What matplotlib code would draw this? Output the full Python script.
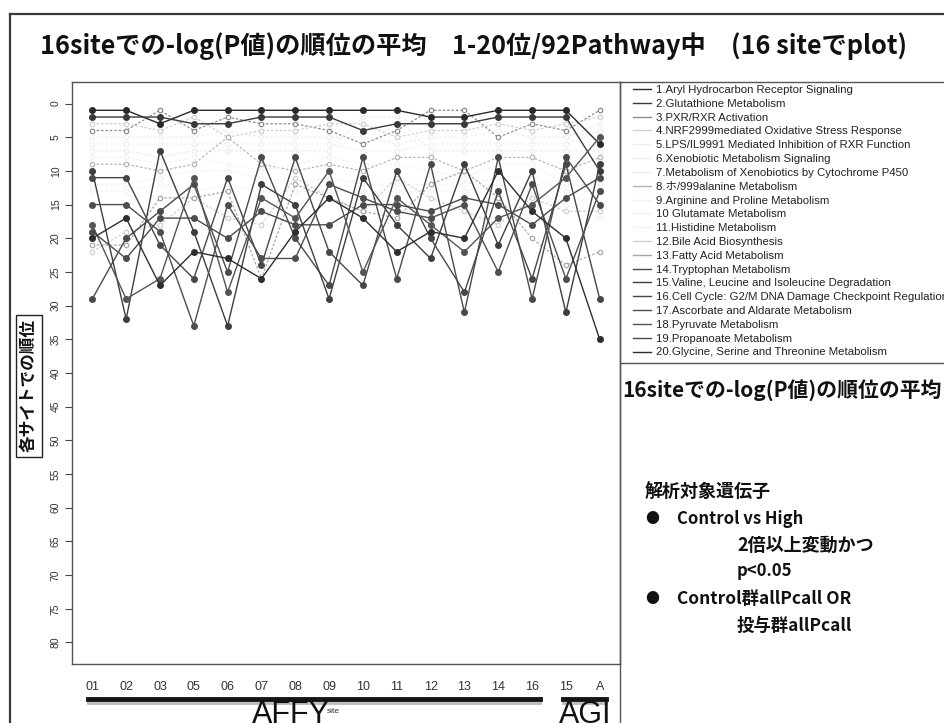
import numpy as np
import matplotlib
matplotlib.use("Agg")
import matplotlib.pyplot as plt
from matplotlib.lines import Line2D

# ---------------- data ----------------
sites = ["01", "02", "03", "05", "06", "07", "08", "09", "10", "11", "12", "13", "14", "16", "15", "A"]

names = [
    "1.Aryl Hydrocarbon Receptor Signaling",
    "2.Glutathione Metabolism",
    "3.PXR/RXR Activation",
    "4.NRF2999mediated Oxidative Stress Response",
    "5.LPS/IL9991 Mediated Inhibition of RXR Function",
    "6.Xenobiotic Metabolism Signaling",
    "7.Metabolism of Xenobiotics by Cytochrome P450",
    "8.ホ/999alanine Metabolism",
    "9.Arginine and Proline Metabolism",
    "10 Glutamate Metabolism",
    "11.Histidine Metabolism",
    "12.Bile Acid Biosynthesis",
    "13.Fatty Acid Metabolism",
    "14.Tryptophan Metabolism",
    "15.Valine, Leucine and Isoleucine Degradation",
    "16.Cell Cycle: G2/M DNA Damage Checkpoint Regulation",
    "17.Ascorbate and Aldarate Metabolism",
    "18.Pyruvate Metabolism",
    "19.Propanoate Metabolism",
    "20.Glycine, Serine and Threonine Metabolism",
]

s01 = [1, 1, 3, 1, 1, 1, 1, 1, 1, 1, 2, 2, 1, 1, 1, 6]
s02 = [2, 2, 2, 3, 3, 2, 2, 2, 4, 3, 3, 3, 2, 2, 2, 10]
s03 = [4, 4, 1, 4, 2, 3, 3, 4, 6, 4, 1, 1, 5, 3, 4, 1]
s04 = [3, 3, 4, 2, 5, 4, 4, 3, 3, 5, 4, 4, 3, 4, 3, 2]
s05 = [5, 5, 5, 5, 4, 5, 5, 5, 5, 6, 5, 5, 4, 5, 5, 3]
s06 = [6, 6, 6, 6, 6, 6, 6, 6, 7, 7, 6, 6, 6, 6, 6, 4]
s07 = [7, 7, 8, 7, 7, 7, 7, 7, 2, 2, 7, 7, 7, 7, 7, 7]
s08 = [9, 9, 10, 9, 5, 9, 10, 9, 10, 8, 8, 10, 8, 8, 10, 8]
s09 = [8, 8, 9, 8, 9, 10, 9, 8, 9, 9, 10, 11, 9, 9, 12, 12]
s10 = [12, 12, 11, 10, 10, 11, 12, 11, 12, 12, 12, 12, 11, 11, 13, 16]
s11 = [13, 13, 12, 13, 12, 13, 13, 13, 13, 13, 13, 13, 12, 13, 15, 17]
s12 = [22, 19, 18, 14, 17, 18, 11, 14, 16, 11, 14, 16, 18, 14, 16, 16]
s13 = [21, 21, 14, 14, 13, 26, 12, 14, 16, 17, 12, 10, 14, 20, 24, 22]
s14 = [29, 20, 16, 12, 25, 8, 20, 27, 8, 26, 9, 31, 8, 29, 8, 15]
s15 = [10, 32, 7, 19, 33, 12, 15, 29, 11, 18, 23, 9, 21, 10, 31, 9]
s16 = [11, 11, 21, 26, 11, 24, 8, 22, 27, 10, 20, 28, 13, 26, 9, 29]
s17 = [15, 15, 19, 33, 15, 23, 23, 12, 14, 16, 17, 15, 25, 12, 26, 13]
s18 = [18, 29, 26, 11, 28, 14, 17, 10, 25, 14, 18, 22, 17, 15, 11, 5]
s19 = [19, 23, 17, 17, 20, 16, 18, 18, 15, 15, 16, 14, 15, 18, 14, 11]
s20 = [20, 17, 27, 22, 23, 26, 19, 14, 17, 22, 19, 20, 10, 16, 20, 35]

series = [s01, s02, s03, s04, s05, s06, s07, s08, s09, s10,
          s11, s12, s13, s14, s15, s16, s17, s18, s19, s20]

# ---------------- styles ----------------
colors = ["#2a2a2a", "#3a3a3a", "#8c8c8c", "#cfcfcf", "#efefef", "#efefef", "#ececec",
          "#b5b5b5", "#f2f2f2", "#f2f2f2", "#f2f2f2", "#d0d0d0", "#a8a8a8",
          "#4a4a4a", "#3e3e3e", "#474747", "#4e4e4e", "#555555", "#4c4c4c", "#2e2e2e"]
dark = [True, True, False, False, False, False, False, False, False, False,
        False, False, False, True, True, True, True, True, True, True]

W, H = 945, 723
fig = plt.figure(figsize=(W / 100, H / 100), dpi=100)
fig.patch.set_facecolor("white")


def fx(px):
    return px / W


def fy(py):
    return 1 - py / H


ax = fig.add_axes([fx(72), fy(664), fx(620) - fx(72), fy(82) - fy(664)])
x = np.arange(1, len(sites) + 1)

order = [i for i in range(20) if not dark[i]] + [i for i in range(20) if dark[i]]
for i in order:
    c = colors[i]
    if dark[i]:
        ax.plot(x, series[i], color=c, lw=1.0, ls="-", marker="o", ms=4.0,
                mfc=c, mec=c, zorder=3)
    else:
        ax.plot(x, series[i], color=c, lw=0.9, ls=(0, (2, 1.5)), marker="o", ms=3.2,
                mfc="white", mec=c, mew=0.9, zorder=2)

ax.set_xlim(0.4, 16.6)
ax.set_ylim(83.2, -3.2)
ax.set_yticks(range(0, 81, 5))
ax.set_yticklabels([str(v) for v in range(0, 81, 5)], rotation=90, va="center",
                   fontsize=7.5, color="#333333", family=["Liberation Sans Narrow", "Liberation Sans"])
ax.tick_params(axis="y", length=5, width=0.8, color="#444444", pad=3)
ax.set_xticks(x)
ax.set_xticklabels(sites, fontsize=9, color="#333333",
                   family=["Liberation Sans Narrow", "Liberation Sans"])
ax.tick_params(axis="x", length=0, pad=12)
for sp in ax.spines.values():
    sp.set_color("#555555")
    sp.set_linewidth(1.0)

# ---------------- legend ----------------
handles = [Line2D([], [], color=colors[i], lw=1.0) for i in range(20)]
leg = fig.legend(handles, names, loc="upper left", bbox_to_anchor=(fx(633), fy(85)),
                 frameon=False, handlelength=1.6, handletextpad=0.45,
                 labelspacing=0.335, borderaxespad=0, borderpad=0,
                 prop={"family": ["Liberation Sans", "Noto Sans CJK JP"], "size": 8.2})
for t in leg.get_texts():
    t.set_color("#222222")

# ---------------- frames ----------------
lc = "#3a3a3a"
fig.add_artist(Line2D([fx(10), fx(945)], [fy(14), fy(14)], color=lc, lw=1.6))
fig.add_artist(Line2D([fx(10), fx(10)], [fy(14), fy(723)], color=lc, lw=1.6))
fig.add_artist(Line2D([fx(620), fx(945)], [fy(82), fy(82)], color="#555555", lw=1.0))
fig.add_artist(Line2D([fx(620), fx(620)], [fy(82), fy(723)], color="#555555", lw=1.0))
fig.add_artist(Line2D([fx(620), fx(945)], [fy(363), fy(363)], color="#555555", lw=1.0))

# ---------------- texts ----------------
jp = ["Noto Sans CJK JP", "DejaVu Sans"]
fig.text(fx(40), fy(46), "16siteでの-log(P値)の順位の平均　1-20位/92Pathway中　(16 siteでplot)",
         fontsize=18.2, fontweight="bold", family=jp, va="center", ha="left", color="#111111")

fig.text(fx(29), fy(386), "各サイトでの順位", rotation=90, fontsize=12, fontweight="bold",
         family=jp, va="center", ha="center", color="#111111",
         bbox=dict(boxstyle="square,pad=0.25", fc="white", ec="#222222", lw=1.0))

fig.text(fx(622), fy(390), "16siteでの-log(P値)の順位の平均", fontsize=15, fontweight="bold",
         family=jp, va="center", ha="left", color="#111111")
fig.text(fx(645), fy(492), "解析対象遺伝子", fontsize=13, fontweight="bold",
         family=jp, va="center", ha="left", color="#111111")
fig.text(fx(645), fy(519), "●", fontsize=10, family=jp, va="center", ha="left", color="#111111")
fig.text(fx(677), fy(519), "Control vs High", fontsize=12, fontweight="bold",
         family=jp, va="center", ha="left", color="#111111")
fig.text(fx(737), fy(545), "2倍以上変動かつ", fontsize=13, fontweight="bold",
         family=jp, va="center", ha="left", color="#111111")
fig.text(fx(737), fy(571), "p<0.05", fontsize=12, fontweight="bold",
         family=jp, va="center", ha="left", color="#111111")
fig.text(fx(645), fy(599), "●", fontsize=10, family=jp, va="center", ha="left", color="#111111")
fig.text(fx(677), fy(599), "Control群allPcall OR", fontsize=12.5, fontweight="bold",
         family=jp, va="center", ha="left", color="#111111")
fig.text(fx(737), fy(626), "投与群allPcall", fontsize=12.5, fontweight="bold",
         family=jp, va="center", ha="left", color="#111111")

# group bars
fig.add_artist(Line2D([fx(88), fx(540)], [fy(703), fy(703)], color="#bbbbbb", lw=2.0))
fig.add_artist(Line2D([fx(88), fx(540)], [fy(699), fy(699)], color="#151515", lw=3.5))
fig.add_artist(Line2D([fx(563), fx(606)], [fy(703), fy(703)], color="#bbbbbb", lw=2.0))
fig.add_artist(Line2D([fx(563), fx(606)], [fy(699), fy(699)], color="#151515", lw=3.5))

narrow = ["Liberation Sans Narrow", "Liberation Sans"]
fig.text(fx(291), fy(700), "AFFY", fontsize=22, family=narrow, va="top", ha="center", color="#111111")
fig.text(fx(327), fy(708), "site", fontsize=6, family=narrow, va="top", ha="left", color="#333333")
fig.text(fx(585), fy(700), "AGI", fontsize=22, family=narrow, va="top", ha="center", color="#111111")

fig.savefig("out.png", dpi=100, facecolor="white")
